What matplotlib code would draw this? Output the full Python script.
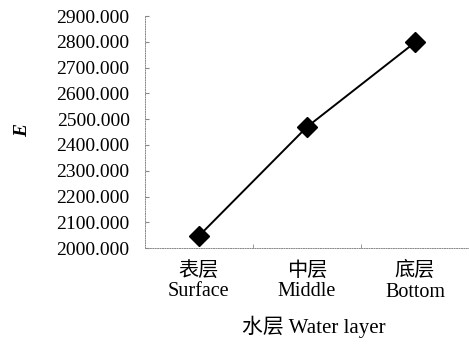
import matplotlib.pyplot as plt
import numpy as np

plt.rcParams['font.family'] = ['Liberation Serif', 'Noto Sans CJK SC']

layers_cn = ["表层", "中层", "底层"]
layers_en = ["Surface", "Middle", "Bottom"]
e_values = [2047, 2470, 2798]
y_ticks = np.arange(2000, 2901, 100)

fig = plt.figure(figsize=(4.69, 3.44), dpi=100)
ax = fig.add_axes([0.309, 0.279, 0.691, 0.674])

x = np.arange(len(layers_en))
ax.plot(x, e_values, color='black', lw=1.4, marker='D', markersize=10,
        markerfacecolor='black', markeredgecolor='black')

ax.set_xlim(-0.5, 2.5)
ax.set_ylim(2000, 2900)
ax.set_yticks(y_ticks)
ax.set_yticklabels([f"{v:.3f}" for v in y_ticks], fontsize=14)
ax.set_xticks(x)
ax.set_xticklabels([f"{c}\n{e}" for c, e in zip(layers_cn, layers_en)], fontsize=14.5,
                   linespacing=1.1)
ax.set_xticks([0.5, 1.5], minor=True)
ax.tick_params(axis='x', which='major', length=0, pad=10)
ax.tick_params(axis='x', which='minor', direction='in', length=3, color='#888888')
ax.tick_params(axis='y', direction='in', length=3, color='#888888', pad=11)

for side in ['top', 'right']:
    ax.spines[side].set_visible(False)
for side in ['left', 'bottom']:
    ax.spines[side].set_linestyle((0, (1, 1.5)))
    ax.spines[side].set_color('#888888')
    ax.spines[side].set_linewidth(0.7)

ax.set_xlabel("水层 Water layer", fontsize=15)
ax.xaxis.set_label_coords(0.52, -0.29)
fig.text(0.049, 0.62, "E", fontsize=14, fontstyle='italic', fontweight='bold',
         rotation=90, ha='center', va='center')

plt.savefig("out.png")
